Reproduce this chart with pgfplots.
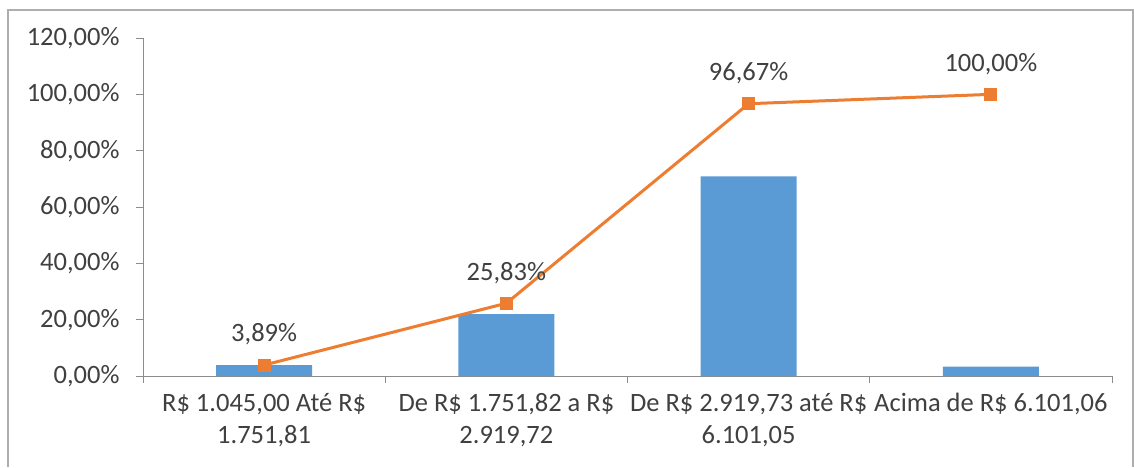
\documentclass[border=0pt]{standalone}
\usepackage{pgfplots}
\pgfplotsset{compat=1.18}
\usepackage{fontspec}
\setmainfont{Carlito}
\definecolor{barblue}{HTML}{5B9BD5}
\definecolor{lineorange}{HTML}{ED7D31}
\definecolor{txt}{HTML}{404040}
\definecolor{axgray}{HTML}{8C8C8C}
\begin{document}
\begin{tikzpicture}
\useasboundingbox (0,0) rectangle (1134pt,467pt);
\draw[axgray!70, line width=1.2pt] (8pt,0) -- (8pt,457pt) -- (1133pt,457pt) -- (1133pt,0);
\begin{axis}[
    at={(143pt,91pt)}, anchor=south west,
    scale only axis,
    width=969pt, height=338pt,
    xmin=-0.5, xmax=3.5,
    ymin=0, ymax=120,
    axis x line=bottom, axis y line=left,
    axis line style={axgray, line width=1pt, -},
    tick align=outside,
    xtick={0,1,2,3},
    xticklabels={{R\$ 1.045,00 Até R\$\\1.751,81},{De R\$ 1.751,82 a R\$\\2.919,72},{De R\$ 2.919,73 até R\$\\6.101,05},{Acima de R\$ 6.101,06}},
    x tick label style={align=center, anchor=north, yshift=-7pt},
    minor xtick={-0.5,0.5,1.5,2.5,3.5},
    x tick style={draw=none},
    minor x tick style={draw=axgray, line width=1pt},
    minor tick length=7pt,
    ytick={0,20,40,60,80,100,120},
    yticklabels={{0,00\%},{20,00\%},{40,00\%},{60,00\%},{80,00\%},{100,00\%},{120,00\%}},
    y tick style={axgray, line width=1pt},
    major tick length=7pt,
    tick label style={font=\fontsize{26.5}{32}\selectfont, text=txt},
    y tick label style={xshift=-13pt},
]
\addplot[ybar, bar width=96pt, fill=barblue, draw=none] coordinates {
    (0,3.89) (1,21.94) (2,70.84) (3,3.33)
};
\addplot[lineorange, line width=3pt, mark=square*, mark size=5pt,
    mark options={fill=lineorange, draw=lineorange},
    point meta=explicit symbolic,
    nodes near coords,
    every node near coord/.append style={font=\fontsize{26.5}{32}\selectfont, text=txt, yshift=15pt}]
coordinates {
    (0,3.89) [3,89\%]
    (1,25.83) [25,83\%]
    (2,96.67) [96,67\%]
    (3,100) [100,00\%]
};
\end{axis}
\end{tikzpicture}
\end{document}
